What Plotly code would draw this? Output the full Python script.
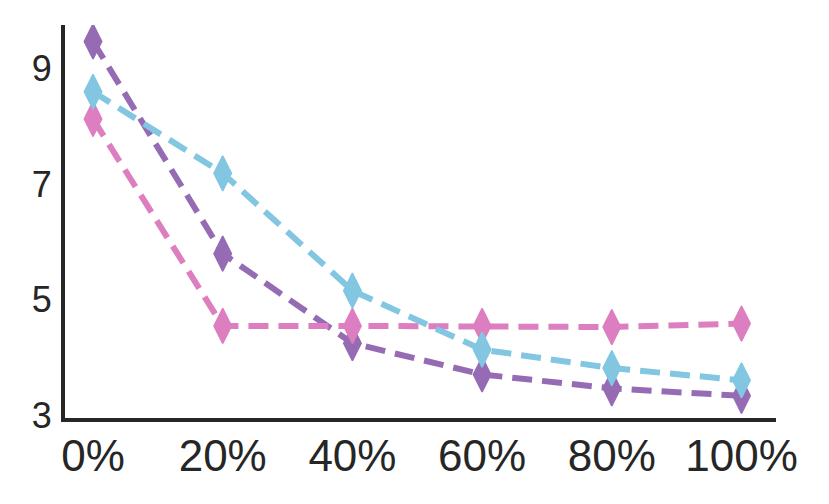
import plotly.graph_objects as go

categories = ["0%", "20%", "40%", "60%", "80%", "100%"]
purple_vals = [9.47, 5.80, 4.25, 3.71, 3.47, 3.34]
pink_vals = [8.13, 4.55, 4.55, 4.55, 4.53, 4.59]
cyan_vals = [8.60, 7.19, 5.16, 4.14, 3.82, 3.61]
y_ticks = [3, 5, 7, 9]

series = [
    ("purple", purple_vals, "#956cb4"),
    ("pink", pink_vals, "#dc7ec0"),
    ("cyan", cyan_vals, "#82c6e2"),
]

xpos = list(range(len(categories)))
fig = go.Figure()
for name, vals, color in series:
    fig.add_trace(go.Scatter(
        x=xpos, y=vals, name=name, mode="lines+markers",
        line=dict(color=color, width=6, dash="20px,10px"),
        marker=dict(symbol="diamond-tall", size=25, color=color,
                    line=dict(color=color, width=1.5)),
        showlegend=False,
    ))

# page body has an 8px margin on every side, so the figure is sized to fit inside it
fig.update_layout(
    width=813, height=488,
    margin=dict(l=57, r=45, t=17, b=78),
    paper_bgcolor="white", plot_bgcolor="white",
    font=dict(family="Liberation Sans, Arial, sans-serif", color="#262626"),
)
fig.update_xaxes(
    range=[-0.216, 5.266], tickvals=xpos, ticktext=categories,
    showgrid=False, zeroline=False, automargin=False,
    showline=True, linecolor="#262626", linewidth=4,
    ticks="", ticklabelstandoff=-4,
    tickfont=dict(size=44),
)
fig.update_yaxes(
    range=[2.957, 9.755], tickvals=y_ticks, ticktext=[str(v) for v in y_ticks],
    showgrid=False, zeroline=False, automargin=False,
    showline=True, linecolor="#262626", linewidth=4,
    ticks="", ticklabelstandoff=2,
    tickfont=dict(size=36),
)
fig.write_html("out.html")
